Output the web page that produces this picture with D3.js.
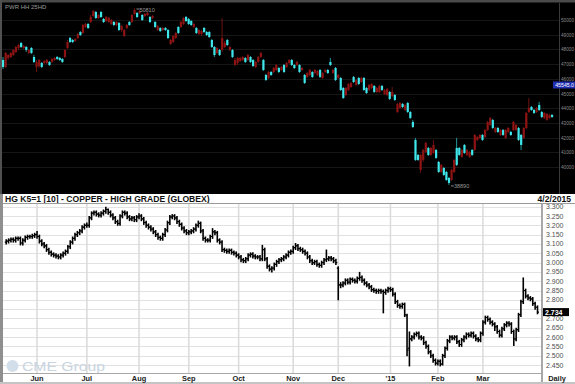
<!DOCTYPE html>
<html><head><meta charset="utf-8">
<script src="https://cdn.jsdelivr.net/npm/d3@7"></script>
<style>html,body{margin:0;padding:0;background:#fff;overflow:hidden}svg{display:block;font-family:"Liberation Sans",Arial,sans-serif}</style>
</head><body><svg id="c" width="575" height="384"></svg>
<script>
// ---------- TOP PANEL (index, candlesticks) ----------
const topOpen=[47280,46804,47416,47484,47620,47824,48096,48436,48096,48164,
47756,48096,47484,46804,46872,47076,47076,47076,47144,47144,
47280,47484,47416,47348,47484,48096,48776,48640,48572,48776,
49184,49116,49524,49728,49864,50272,50544,50136,50544,50068,
49932,49864,49728,49864,49660,49796,49320,48912,49456,49864,
49864,50408,50476,50476,50340,50272,50340,50204,50136,49864,
49320,49456,49320,49456,49320,48368,48504,48776,49524,49524,
49728,50204,50068,49932,49524,49456,49048,49048,49456,49184,
49184,48640,48164,47756,47960,47960,48164,48640,47960,47960,
46940,47076,47212,47280,47416,47280,47484,47280,46804,47144,
47484,47280,46260,46056,46464,46464,46600,46736,46600,46940,
46804,47076,47280,46940,46940,46940,46600,46260,46124,46260,
46464,46396,46260,46600,46056,46464,46600,47144,46396,46736,
46056,46056,45376,44900,45240,45444,46124,45580,46056,45784,
46056,45376,45240,45376,45512,45104,45104,45512,44968,44900,
45104,44832,44900,43744,44016,44288,43880,44356,43744,43064,
41840,40820,39800,40480,41024,41296,40820,40956,41160,40344,
39664,39936,39664,39256,39120,39664,41296,41296,40684,41500,
40820,40684,41160,41160,41840,41976,42180,42044,42520,42860,
43200,42384,42656,42180,42520,41976,42384,42384,42520,42520,
42656,42180,41976,42656,43744,44084,43880,43744,44220,43744,
43336,43200,43336,43540];
const topHigh=[47484,47824,47688,47824,48028,48232,48368,48504,48300,48232,
48028,48164,47620,47280,47348,47144,47280,47348,47212,47416,
47484,47552,47484,47416,48028,48640,48844,48708,48776,49116,
49252,49728,49796,49796,50340,50680,50612,50408,50612,50136,
50272,50204,50068,49932,49932,49864,49660,49388,49728,49932,
50408,50816,50544,50680,50408,50476,50544,50272,50340,49932,
49660,49524,49524,49524,49388,48708,48980,49184,49592,49932,
50204,50272,50136,50000,49796,49524,49388,49320,49524,49252,
49252,48708,48232,48164,48028,50136,48572,48708,48232,48028,
47416,47484,47484,47552,47484,47688,47552,47348,47212,47552,
47824,47348,46328,46532,46532,46804,47008,46804,46872,47008,
47144,47348,47348,47008,47212,47008,46804,46328,46464,46668,
46532,46668,46600,46668,46464,46668,46668,47416,46668,46804,
46328,46124,45444,45444,45716,45784,46192,45988,46124,46124,
46124,45444,45648,45716,45580,45444,45580,45580,45308,45376,
45172,45444,44968,44356,44424,44356,44288,44424,43812,43200,
41976,40888,40888,41228,41704,41364,41364,41840,41228,40412,
40208,40004,39732,39324,39868,40548,41976,41364,41228,41568,
41228,41092,41228,42248,42112,42248,42248,42588,43132,43404,
43268,42724,42724,42588,42588,42588,42724,42452,43132,42928,
42724,42248,42724,43744,44696,44152,43948,44084,44424,43812,
43744,43676,43608,43608];
const topLow=[46668,46736,47280,47416,47552,47756,47960,48096,48028,47824,
47688,47688,47076,46464,46736,46736,47008,47008,46872,47076,
47212,47280,47212,47076,47416,48028,48436,48436,48504,48708,
48912,49048,49456,49388,49796,50204,50068,50068,50136,49796,
49864,49796,49660,49592,49592,49252,49184,48844,49388,49592,
49796,50340,50136,50408,49932,50204,50272,49796,50068,49456,
49252,49184,49252,49252,48708,48300,48436,48708,49048,49456,
49660,49864,49660,49592,49456,49048,48980,48912,49116,48912,
48776,48096,47484,47688,47552,47824,48096,48232,47892,47416,
46872,46940,47144,47212,47076,47212,47076,46804,46736,47076,
47416,46532,45852,45988,46192,46396,46532,46396,46532,46396,
46736,47008,46872,46668,46872,46396,46532,45648,46056,46192,
46056,46328,46192,46056,45988,46396,46328,46872,46328,45852,
45988,45172,44628,44832,45172,45376,45716,45512,45580,45716,
45172,44968,45172,45308,45036,45036,45036,45172,44900,44832,
44560,44764,44492,43676,43948,44016,43812,43676,43268,42656,
40412,40412,39596,40344,40956,40752,40752,40888,40548,39596,
39596,39392,39052,38780,39052,39596,40072,40752,40616,40888,
40752,40616,40752,41092,41772,41908,41772,41976,42452,42792,
42588,42316,42316,42112,42112,41908,42316,42112,42452,42452,
41772,41160,41908,42588,43676,43812,43608,43676,43812,43336,
43268,43132,43268,43336];
const topClose=[46804,47756,47620,47756,47960,48164,48300,48164,48232,47960,
47960,47756,47144,47144,47280,46804,47212,47280,46940,47348,
47416,47348,47280,47144,47960,48504,48504,48504,48708,49048,
48980,49660,49728,49456,50204,50612,50136,50340,50204,49864,
50204,50136,50000,49660,49864,49320,49592,49320,49660,49660,
50340,50680,50204,50612,50000,50408,50476,49864,50272,49524,
49592,49252,49456,49320,48776,48640,48912,49116,49116,49864,
50136,49932,49728,49660,49728,49116,49320,49252,49184,48980,
48844,48164,47620,48096,47620,48776,48436,48300,48164,47484,
47280,47416,47416,47484,47144,47620,47144,46872,47144,47484,
47756,46600,45920,46464,46260,46736,46940,46464,46804,46464,
47076,47280,46940,46736,47144,46464,46736,45716,46396,46600,
46124,46600,46532,46124,46396,46600,46396,46940,46600,45920,
46260,45240,44696,45376,45648,45716,45784,45920,45648,46056,
45240,45036,45580,45648,45104,45376,45512,45240,45240,45308,
44628,45104,44560,44288,44356,44084,44220,43744,43336,42724,
40480,40480,40820,41160,41636,40820,41296,41500,40616,39664,
40140,39460,39120,38916,39800,40480,40140,40820,41160,40956,
41160,41024,40820,42180,42044,42180,41840,42520,43064,43336,
42656,42656,42384,42520,42180,42520,42656,42180,43064,42860,
41840,41500,42656,43676,44016,43880,43676,44016,43880,43404,
43676,43608,43540,43404];
const topTicks=[50000,49000,48000,47000,46000,45000,44000,43000,42000,41000,40000];
const topTitle="PWR HH 25HD";
const topMarkValue=45545.0;
const topHighLabel="50810", topLowLabel="38890";

// ---------- BOTTOM PANEL (copper futures, OHLC) ----------
const cuOpen=[3.11,3.115,3.12,3.125,3.12,3.13,3.13,3.105,3.12,3.135,
3.14,3.14,3.145,3.15,3.14,3.115,3.10,3.09,3.07,3.055,
3.045,3.04,3.035,3.03,3.04,3.05,3.06,3.085,3.11,3.13,
3.15,3.16,3.17,3.19,3.20,3.20,3.24,3.265,3.27,3.26,
3.255,3.265,3.275,3.285,3.27,3.255,3.24,3.22,3.21,3.25,
3.27,3.265,3.245,3.235,3.24,3.23,3.245,3.25,3.235,3.215,
3.20,3.19,3.18,3.165,3.15,3.135,3.13,3.15,3.175,3.215,
3.245,3.25,3.24,3.22,3.205,3.185,3.17,3.16,3.165,3.17,
3.18,3.20,3.21,3.17,3.13,3.12,3.12,3.14,3.165,3.16,
3.12,3.11,3.07,3.065,3.06,3.065,3.055,3.05,3.04,3.03,
3.015,3.01,3.02,3.04,3.045,3.035,3.03,3.03,3.02,3.07,
3.02,2.98,2.965,2.97,2.99,3.005,3.015,3.02,3.03,3.04,
3.055,3.06,3.08,3.09,3.075,3.07,3.06,3.05,3.03,3.01,
3.00,3.005,2.99,2.985,3.00,3.015,3.02,3.025,3.02,3.01,
2.97,2.88,2.88,2.89,2.905,2.895,2.91,2.905,2.90,2.915,
2.92,2.905,2.89,2.88,2.87,2.855,2.85,2.845,2.85,2.845,
2.84,2.85,2.86,2.855,2.83,2.79,2.77,2.765,2.775,2.715,
2.54,2.59,2.60,2.615,2.62,2.60,2.595,2.57,2.55,2.52,
2.50,2.475,2.46,2.47,2.455,2.50,2.54,2.58,2.60,2.595,
2.60,2.575,2.56,2.585,2.60,2.615,2.61,2.62,2.605,2.59,
2.585,2.62,2.68,2.705,2.695,2.68,2.67,2.655,2.63,2.61,
2.645,2.665,2.675,2.67,2.63,2.59,2.64,2.72,2.79,2.85,
2.82,2.81,2.805,2.78,2.76];
const cuHigh=[3.125,3.13,3.135,3.135,3.14,3.14,3.14,3.13,3.145,3.15,
3.15,3.155,3.16,3.17,3.15,3.125,3.11,3.10,3.08,3.065,
3.055,3.05,3.045,3.05,3.06,3.07,3.095,3.12,3.14,3.16,
3.17,3.18,3.20,3.21,3.215,3.25,3.275,3.28,3.28,3.27,
3.275,3.285,3.30,3.29,3.28,3.265,3.25,3.23,3.26,3.28,
3.28,3.275,3.255,3.25,3.25,3.255,3.265,3.26,3.245,3.225,
3.21,3.20,3.19,3.175,3.16,3.145,3.16,3.185,3.225,3.255,
3.26,3.26,3.25,3.23,3.215,3.195,3.18,3.175,3.18,3.19,
3.21,3.225,3.22,3.18,3.14,3.13,3.15,3.185,3.175,3.17,
3.13,3.12,3.08,3.075,3.075,3.075,3.065,3.06,3.05,3.04,
3.025,3.03,3.05,3.055,3.055,3.045,3.04,3.04,3.095,3.08,
3.03,2.99,2.98,3.00,3.015,3.025,3.03,3.04,3.05,3.065,
3.07,3.09,3.105,3.10,3.085,3.08,3.07,3.06,3.04,3.02,
3.015,3.015,3.00,3.01,3.025,3.07,3.035,3.035,3.03,3.02,
2.98,2.895,2.90,2.915,2.915,2.92,2.92,2.915,2.925,2.95,
2.93,2.915,2.90,2.89,2.88,2.865,2.86,2.86,2.86,2.855,
2.86,2.87,2.87,2.865,2.84,2.80,2.78,2.785,2.785,2.725,
2.63,2.61,2.625,2.63,2.63,2.61,2.605,2.58,2.56,2.53,
2.51,2.485,2.48,2.48,2.51,2.55,2.59,2.61,2.61,2.61,
2.61,2.585,2.595,2.61,2.625,2.625,2.63,2.63,2.615,2.60,
2.63,2.69,2.715,2.715,2.705,2.69,2.68,2.665,2.64,2.655,
2.675,2.685,2.685,2.68,2.64,2.65,2.73,2.80,2.92,2.86,
2.83,2.82,2.815,2.79,2.77];
const cuLow=[3.10,3.105,3.11,3.11,3.11,3.12,3.095,3.095,3.11,3.125,
3.13,3.13,3.135,3.13,3.105,3.09,3.08,3.06,3.045,3.035,
3.03,3.025,3.02,3.02,3.03,3.04,3.05,3.075,3.10,3.12,
3.14,3.15,3.16,3.18,3.19,3.19,3.23,3.255,3.25,3.245,
3.245,3.255,3.265,3.26,3.245,3.23,3.21,3.20,3.20,3.24,
3.255,3.235,3.225,3.225,3.22,3.22,3.235,3.225,3.205,3.19,
3.18,3.17,3.155,3.14,3.125,3.12,3.12,3.14,3.165,3.205,
3.235,3.23,3.21,3.195,3.175,3.16,3.15,3.15,3.155,3.16,
3.17,3.19,3.16,3.12,3.11,3.11,3.11,3.13,3.15,3.11,
3.10,3.06,3.055,3.05,3.05,3.045,3.04,3.03,3.02,3.005,
3.00,3.00,3.01,3.03,3.025,3.02,3.02,3.01,3.01,3.01,
2.97,2.955,2.95,2.96,2.98,2.995,3.005,3.01,3.02,3.03,
3.045,3.05,3.07,3.065,3.06,3.05,3.04,3.02,3.00,2.99,
2.99,2.98,2.975,2.975,2.99,3.005,3.01,3.01,3.00,2.99,
2.80,2.865,2.87,2.88,2.885,2.885,2.895,2.89,2.89,2.905,
2.895,2.88,2.87,2.86,2.845,2.84,2.835,2.835,2.835,2.73,
2.83,2.84,2.845,2.82,2.78,2.76,2.755,2.755,2.71,2.50,
2.445,2.58,2.59,2.605,2.59,2.585,2.56,2.54,2.51,2.49,
2.465,2.45,2.45,2.445,2.45,2.49,2.53,2.57,2.585,2.585,
2.565,2.55,2.55,2.575,2.59,2.60,2.60,2.595,2.58,2.575,
2.575,2.61,2.67,2.685,2.67,2.66,2.635,2.62,2.60,2.60,
2.635,2.655,2.66,2.62,2.555,2.58,2.63,2.71,2.78,2.81,
2.80,2.795,2.77,2.75,2.725];
const cuClose=[3.115,3.12,3.125,3.12,3.13,3.13,3.105,3.12,3.135,3.14,
3.14,3.145,3.15,3.14,3.115,3.10,3.09,3.07,3.055,3.045,
3.04,3.035,3.03,3.04,3.05,3.06,3.085,3.11,3.13,3.15,
3.16,3.17,3.19,3.20,3.20,3.24,3.265,3.27,3.26,3.255,
3.265,3.275,3.285,3.27,3.255,3.24,3.22,3.21,3.25,3.27,
3.265,3.245,3.235,3.24,3.23,3.245,3.25,3.235,3.215,3.20,
3.19,3.18,3.165,3.15,3.135,3.13,3.15,3.175,3.215,3.245,
3.25,3.24,3.22,3.205,3.185,3.17,3.16,3.165,3.17,3.18,
3.20,3.21,3.17,3.13,3.12,3.12,3.14,3.165,3.16,3.12,
3.11,3.07,3.065,3.06,3.065,3.055,3.05,3.04,3.03,3.015,
3.01,3.02,3.04,3.045,3.035,3.03,3.03,3.02,3.07,3.02,
2.98,2.965,2.97,2.99,3.005,3.015,3.02,3.03,3.04,3.055,
3.06,3.08,3.09,3.075,3.07,3.06,3.05,3.03,3.01,3.00,
3.005,2.99,2.985,3.00,3.015,3.02,3.025,3.02,3.01,3.00,
2.88,2.88,2.89,2.905,2.895,2.91,2.905,2.90,2.915,2.92,
2.905,2.89,2.88,2.87,2.855,2.85,2.845,2.85,2.845,2.84,
2.85,2.86,2.855,2.83,2.79,2.77,2.765,2.775,2.72,2.53,
2.59,2.60,2.615,2.62,2.60,2.595,2.57,2.55,2.52,2.50,
2.475,2.46,2.47,2.455,2.50,2.54,2.58,2.60,2.595,2.60,
2.575,2.56,2.585,2.60,2.615,2.61,2.62,2.605,2.59,2.585,
2.62,2.68,2.705,2.695,2.68,2.67,2.655,2.63,2.61,2.645,
2.665,2.675,2.67,2.63,2.59,2.64,2.72,2.79,2.85,2.82,
2.81,2.805,2.78,2.76,2.734];
const monthLabels=["Jun","Jul","Aug","Sep","Oct","Nov","Dec","'15","Feb","Mar"];
const monthStartIdx=[13,34,56,77,98,121,140,162,182,201];
const cuTicks=[3.30,3.25,3.20,3.15,3.10,3.05,3.00,2.95,2.90,2.85,2.80,2.75,2.70,2.65,2.60,2.55,2.50,2.45];
const cuTitle="HG K5=1 [10] - COPPER - HIGH GRADE (GLOBEX)";
const cuDate="4/2/2015";
const cuLast=2.734;

// ---------- DRAW ----------
const svg=d3.select("#c");
const W=575,H=384;

// top panel
const tp=svg.append("g");
tp.append("rect").attr("x",0).attr("y",0).attr("width",W).attr("height",194).attr("fill","#000");
tp.append("rect").attr("x",0).attr("y",0).attr("width",W).attr("height",2.5).attr("fill","#4a4a4a");
tp.append("rect").attr("x",0).attr("y",0).attr("width",2).attr("height",194).attr("fill","#505050");
const tY=d3.scaleLinear().domain([40000,50000]).range([167,20]);
const tX=d3.scaleLinear().domain([0,topClose.length-1]).range([3,552]);
tp.append("g").selectAll("line").data(topTicks).join("line")
  .attr("x1",2).attr("x2",559).attr("y1",d=>Math.round(tY(d))+0.5).attr("y2",d=>Math.round(tY(d))+0.5)
  .attr("stroke","#161616").attr("stroke-width",1);
tp.append("line").attr("x1",559.5).attr("x2",559.5).attr("y1",3).attr("y2",194).attr("stroke","#3a3a3a");
tp.append("g").selectAll("text").data(topTicks.filter(d=>Math.abs(tY(d)-tY(topMarkValue))>6)).join("text")
  .attr("x",561).attr("y",d=>tY(d)+2).attr("font-size",5.2).attr("textLength",13).attr("lengthAdjust","spacingAndGlyphs")
  .attr("fill","#8c8c8c").text(d=>d3.format("d")(d));
tp.append("text").attr("x",5).attr("y",9).attr("font-size",6).attr("fill","#9a9a9a").text(topTitle);
const tIdx=d3.range(topClose.length);
const up=i=>topClose[i]>=topOpen[i];
tp.append("g").selectAll("line").data(tIdx).join("line")
  .attr("x1",i=>tX(i)).attr("x2",i=>tX(i)).attr("y1",i=>tY(topHigh[i])).attr("y2",i=>tY(topLow[i]))
  .attr("stroke",i=>up(i)?"#6e1212":"#1f9a9c").attr("stroke-width",1);
tp.append("g").selectAll("rect").data(tIdx).join("rect")
  .attr("x",i=>tX(i)-1).attr("width",2.2)
  .attr("y",i=>tY(Math.max(topOpen[i],topClose[i])))
  .attr("height",i=>Math.max(1,Math.abs(tY(topOpen[i])-tY(topClose[i]))))
  .attr("fill",i=>up(i)?"#8e1414":"#3fe6ea");
const hiI=d3.maxIndex(topHigh), loI=d3.minIndex(topLow);
tp.append("line").attr("x1",tX(hiI)+2).attr("x2",tX(hiI)+5).attr("y1",tY(topHigh[hiI])+1).attr("y2",tY(topHigh[hiI])+1).attr("stroke","#888");
tp.append("text").attr("x",tX(hiI)+5).attr("y",tY(topHigh[hiI])+3.5).attr("font-size",5.5).attr("fill","#999").text(topHighLabel);
tp.append("line").attr("x1",tX(loI)+2).attr("x2",tX(loI)+5).attr("y1",tY(topLow[loI])+1).attr("y2",tY(topLow[loI])+1).attr("stroke","#888");
tp.append("text").attr("x",tX(loI)+5).attr("y",tY(topLow[loI])+3.5).attr("font-size",5.5).attr("fill","#999").text(topLowLabel);
tp.append("rect").attr("x",553).attr("y",tY(topMarkValue)-4).attr("width",22).attr("height",7).attr("fill","#1f2fb0");
tp.append("text").attr("x",574).attr("y",tY(topMarkValue)+1.5).attr("text-anchor","end").attr("font-size",5.2)
  .attr("fill","#fff").text(d3.format(".1f")(topMarkValue));

// bottom panel
const bt=svg.append("g");
bt.append("rect").attr("x",0).attr("y",194).attr("width",W).attr("height",H-194).attr("fill","#fff");
bt.append("rect").attr("x",0).attr("y",194).attr("width",3).attr("height",H-194).attr("fill","#8f8f8f");
bt.append("text").attr("x",5).attr("y",201.5).attr("font-size",8.6).attr("font-weight","bold").attr("fill","#111").text(cuTitle);
bt.append("text").attr("x",571).attr("y",201.5).attr("text-anchor","end").attr("font-size",8.6).attr("font-weight","bold").attr("fill","#111").text(cuDate);
bt.append("line").attr("x1",3).attr("x2",W).attr("y1",203.5).attr("y2",203.5).attr("stroke","#9a9a9a");
const bY=d3.scaleLinear().domain([2.45,3.30]).range([365,206.7]);
const bX=d3.scaleLinear().domain([0,cuClose.length-1]).range([6.2,537.5]);
bt.append("g").selectAll("line").data(cuTicks).join("line")
  .attr("x1",3).attr("x2",542).attr("y1",d=>Math.round(bY(d))+0.5).attr("y2",d=>Math.round(bY(d))+0.5)
  .attr("stroke","#e2e2e2");
bt.append("g").selectAll("line").data(monthStartIdx).join("line")
  .attr("x1",d=>bX(d)).attr("x2",d=>bX(d)).attr("y1",204).attr("y2",373)
  .attr("stroke","#dcdcdc").attr("stroke-width",1.6);
bt.append("circle").attr("cx",12.5).attr("cy",366).attr("r",6).attr("fill","#d2deea");
bt.append("text").attr("x",22).attr("y",371).attr("font-size",13).attr("textLength",83).attr("lengthAdjust","spacingAndGlyphs")
  .attr("fill","#c8d4e0").text("CME Group");
const bIdx=d3.range(cuClose.length);
const bars=bt.append("g").attr("stroke","#000");
bars.selectAll("line.hl").data(bIdx).join("line").attr("class","hl")
  .attr("x1",i=>bX(i)).attr("x2",i=>bX(i)).attr("y1",i=>bY(cuHigh[i])).attr("y2",i=>bY(cuLow[i])+0.5).attr("stroke-width",1.6);
bars.selectAll("line.o").data(bIdx).join("line").attr("class","o")
  .attr("x1",i=>bX(i)-1.5).attr("x2",i=>bX(i)).attr("y1",i=>bY(cuOpen[i])).attr("y2",i=>bY(cuOpen[i])).attr("stroke-width",1.2);
bars.selectAll("line.c").data(bIdx).join("line").attr("class","c")
  .attr("x1",i=>bX(i)).attr("x2",i=>bX(i)+1.5).attr("y1",i=>bY(cuClose[i])).attr("y2",i=>bY(cuClose[i])).attr("stroke-width",1.2);
bt.append("line").attr("x1",3).attr("x2",542).attr("y1",373.5).attr("y2",373.5).attr("stroke","#a8a8a8");
bt.append("line").attr("x1",542).attr("x2",542).attr("y1",204).attr("y2",384).attr("stroke","#a8a8a8").attr("stroke-width",2);
bt.append("rect").attr("x",0).attr("y",382).attr("width",W).attr("height",2).attr("fill","#c4c4c4");
bt.append("g").selectAll("text").data(cuTicks.filter(d=>Math.abs(bY(d)-bY(cuLast))>6)).join("text")
  .attr("x",546).attr("y",d=>bY(d)+2.5).attr("font-size",7).attr("fill","#505050").text(d=>d3.format(".3f")(d));
bt.append("rect").attr("x",543).attr("y",bY(cuLast)-4).attr("width",26).attr("height",8).attr("fill","#000");
bt.append("text").attr("x",545).attr("y",bY(cuLast)+2.5).attr("font-size",7).attr("font-weight","bold").attr("fill","#fff").text(d3.format(".3f")(cuLast));
bt.append("g").selectAll("text").data(monthStartIdx).join("text")
  .attr("x",d=>bX(d)).attr("y",381).attr("text-anchor","middle").attr("font-size",7.4).attr("font-weight","bold").attr("fill","#222")
  .text((d,i)=>monthLabels[i]);
bt.append("text").attr("x",557).attr("y",381).attr("text-anchor","middle").attr("font-size",7.4).attr("font-weight","bold").attr("fill","#222").text("Daily");
</script></body></html>
